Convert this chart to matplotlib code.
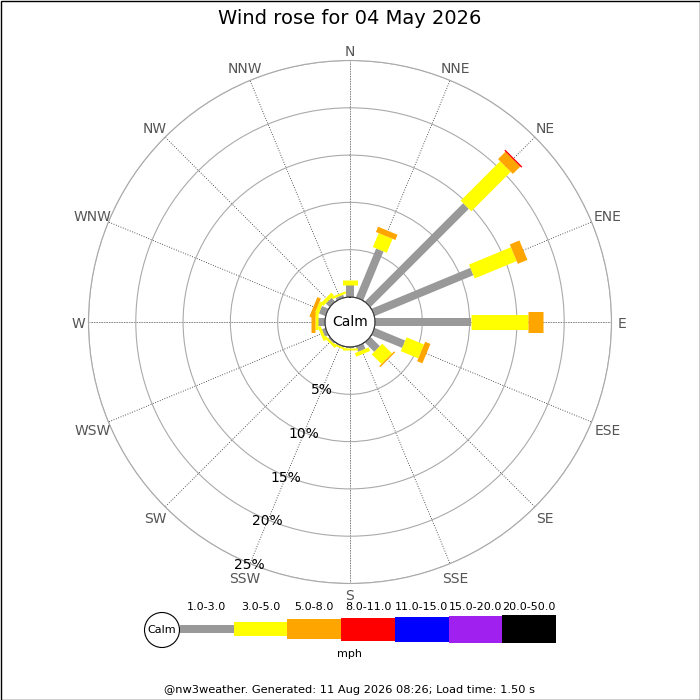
import numpy as np
import matplotlib
matplotlib.use('Agg')
import matplotlib.pyplot as plt
import matplotlib.transforms as mtransforms
from matplotlib.patches import Circle, Rectangle

# wind directions (16 point compass)
directions = ['N', 'NNE', 'NE', 'ENE', 'E', 'ESE', 'SE', 'SSE',
              'S', 'SSW', 'SW', 'WSW', 'W', 'WNW', 'NW', 'NNW']

# speed bins (mph)
speed_bins = ['1.0-3.0', '3.0-5.0', '5.0-8.0', '8.0-11.0', '11.0-15.0', '15.0-20.0', '20.0-50.0']
bin_colors = ['#999999', '#ffff00', '#ffa500', '#ff0000', '#0000ff', '#a020f0', '#000000']

# percentage of time per direction for each speed bin
pct_1_3 = [1.25, 5.6, 14.7, 11.3, 10.1, 3.5, 1.4, 0.6, 0.15, 0.1, 0.2, 0.4, 0.75, 0.75, 0.55, 0.3]
pct_3_5 = [0.5, 1.6, 5.9, 4.8, 6.1, 2.0, 1.45, 0.4, 0.15, 0.2, 0.25, 0.3, 0.3, 0.4, 0.4, 0.25]
pct_5_8 = [0, 0.6, 1.1, 1.1, 1.55, 0.6, 0.15, 0, 0, 0, 0, 0, 0.4, 0.4, 0, 0]
pct_8_11 = [0, 0, 0.15, 0, 0, 0, 0, 0, 0, 0, 0, 0, 0, 0, 0, 0]
pct_11_15 = [0] * 16
pct_15_20 = [0] * 16
pct_20_50 = [0] * 16

ring_ticks = [5, 10, 15, 20, 25]
ring_labels = ['5%', '10%', '15%', '20%', '25%']

title = 'Wind rose for 04 May 2026'
footer = '@nw3weather. Generated: 11 Aug 2026 08:26; Load time: 1.50 s'

series = [pct_1_3, pct_3_5, pct_5_8, pct_8_11, pct_11_15, pct_15_20, pct_20_50]
bar_widths_px = [8, 15, 21, 24, 25, 27, 28]
px = 0.72  # points per pixel at dpi 100

fig = plt.figure(figsize=(7, 7), dpi=100)

# polar axes: centre at (350, 322) px, outer radius ~261 px
R = 261.5
calm_px = 25
scale = (R - calm_px) / 25  # px per percent
ax = fig.add_axes([(350 - R) / 700, (378 - R) / 700, 2 * R / 700, 2 * R / 700], projection='polar')
ax.set_theta_zero_location('N')
ax.set_theta_direction(-1)
ax.set_rorigin(-calm_px / scale)
ax.set_ylim(0, 25)

angles = np.deg2rad(np.arange(16) * 22.5)

ax.set_yticks(ring_ticks)
ax.set_yticklabels([])
ax.yaxis.grid(True, color='#aaaaaa', linewidth=0.8, linestyle='-')
ax.spines['polar'].set_color('#aaaaaa')
ax.spines['polar'].set_linewidth(0.8)

ax.set_xticks(angles)
ax.set_xticklabels([])
ax.xaxis.grid(True, color='#222222', linewidth=0.6, linestyle=(0, (1, 2)))
for i, gl in enumerate(ax.xaxis.get_gridlines()):
    if i % 4 == 0:
        gl.set_color('#777777')
        gl.set_linestyle((0, (2, 1)))

# direction labels outside the circle, pushed out by their size
shift_down = mtransforms.offset_copy(ax.transData, fig=fig, x=0, y=-2, units='dots')
for a, d in zip(angles, directions):
    w = len(d) * 9.5
    proj = abs(np.sin(a)) * w / 2 + abs(np.cos(a)) * 5
    r_px = 269 + 0.65 * proj
    ax.text(a, (r_px - calm_px) / scale, d, ha='center', va='center', fontsize=10,
            color='#555555', clip_on=False, transform=shift_down)

# ring labels along SSW
for r, lab in zip(ring_ticks, ring_labels):
    ax.text(np.deg2rad(202.5), r + 0.15, lab, ha='center', va='center', fontsize=10, color='black', zorder=6)

# stacked bars drawn as thick lines
cum = np.zeros(16)
for vals, col, w in zip(series, bin_colors, bar_widths_px):
    vals = np.array(vals)
    for a, start, v in zip(angles, cum, vals):
        if v > 0:
            ax.plot([a, a], [start, start + v], color=col, linewidth=w * px,
                    solid_capstyle='butt', zorder=4)
    cum = cum + vals

# calm circle
ax.add_patch(Circle((0.5, 0.5), calm_px / (2 * R), transform=ax.transAxes,
                    facecolor='white', edgecolor='#333333', linewidth=0.8, zorder=5))
ax.text(0.5, 0.5, 'Calm', transform=ax.transAxes, ha='center', va='center', fontsize=10, zorder=6)

fig.text(0.5, 1 - 18 / 700, title, ha='center', va='center', fontsize=14)

# legend along the bottom
lax = fig.add_axes([0, 0, 1, 1])
lax.set_xlim(0, 700)
lax.set_ylim(700, 0)
lax.axis('off')
lax.add_patch(Circle((162, 630), 17.5, facecolor='white', edgecolor='black', linewidth=0.8))
lax.text(162, 630, 'Calm', ha='center', va='center', fontsize=8)
x0 = 180
box_w = 53.7
leg_heights = [8, 14, 20, 23, 25, 27, 28]
for i, (lab, col, h) in enumerate(zip(speed_bins, bin_colors, leg_heights)):
    x = x0 + i * box_w
    lax.add_patch(Rectangle((x, 629 - h / 2), box_w, h, facecolor=col, edgecolor='none'))
    lax.text(x + box_w / 2, 607, lab, ha='center', va='center', fontsize=8)
lax.text(350, 654, 'mph', ha='center', va='center', fontsize=8)
lax.text(350, 690, footer, ha='center', va='center', fontsize=8.2)
lax.add_patch(Rectangle((0.5, 0.5), 699, 699, facecolor='none', edgecolor='black', linewidth=1.0))

fig.savefig('out.png', dpi=100)
